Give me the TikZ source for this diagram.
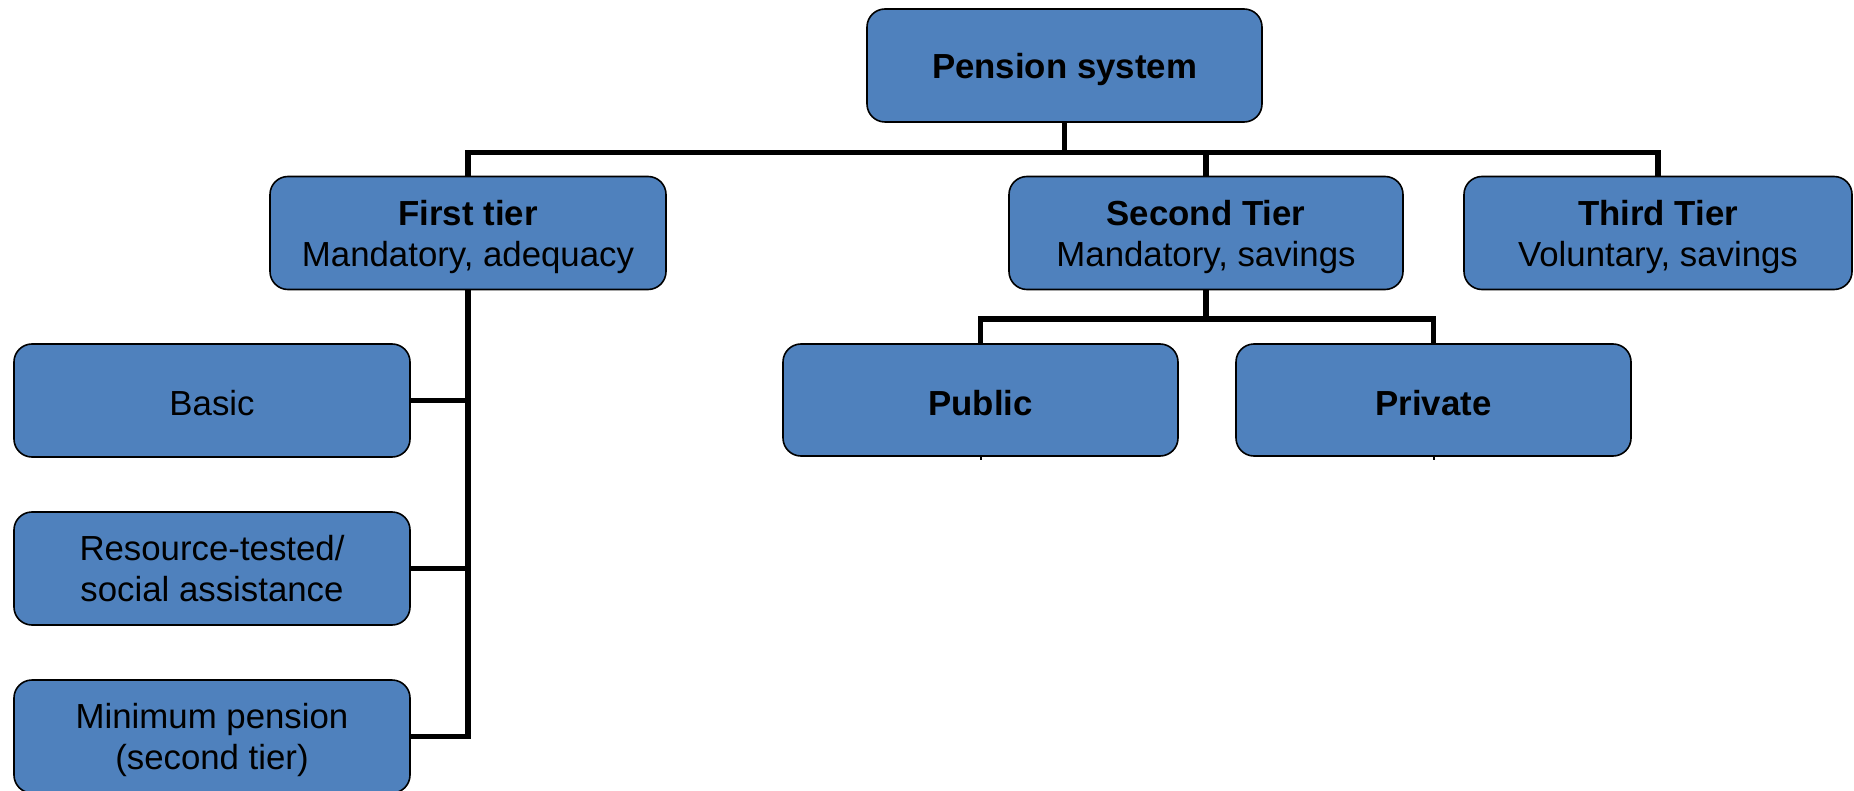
\documentclass[tikz,border=0pt]{standalone}
\usepackage{fontspec}
\setmainfont{Liberation Sans}
\definecolor{boxblue}{RGB}{79,129,189}
\begin{document}
\begin{tikzpicture}[x=1pt,y=-1pt,
  tbox/.style={draw=black, line width=1.6pt, fill=boxblue, rounded corners=18pt,
    minimum width=396pt, minimum height=113pt, inner sep=0pt, align=center,
    text depth=0pt, font=\fontsize{34.8}{41}\selectfont},
  lowtext/.style={text height=30pt},
  bus/.style={draw=black, line width=5.5pt},
  stub/.style={draw=black, line width=2pt}]
\useasboundingbox (0,0) rectangle (1854,791);
\begin{scope}
\clip (0,0) rectangle (1854,791);
\node[tbox, minimum width=395pt] (top) at (1064.5,65.5) {\textbf{Pension system}};
\node[tbox] (first) at (468,233) {\textbf{First tier}\\Mandatory, adequacy};
\node[tbox, minimum width=394pt] (second) at (1206,233) {\textbf{Second Tier}\\Mandatory, savings};
\node[tbox, minimum width=388pt] (third) at (1658,233) {\textbf{Third Tier}\\Voluntary, savings};
\node[tbox, lowtext] (basic) at (212,400.5) {Basic};
\node[tbox] (resource) at (212,568.5) {Resource-tested/\\social assistance};
\node[tbox] (minimum) at (212,736.5) {Minimum pension\\(second tier)};
\node[tbox, lowtext, minimum width=395pt, minimum height=112pt] (public) at (980.5,400) {\textbf{Public}};
\node[tbox, lowtext, minimum width=395pt, minimum height=112pt] (private) at (1433.5,400) {\textbf{Private}};
\end{scope}
\coordinate (b1) at (1064.5,152.5);
\coordinate (b2) at (1206,319);
\coordinate (pubstub) at (980.5,460);
\coordinate (pristub) at (1433.5,460);
\draw[bus] (top.south) -- (b1);
\draw[bus] (first.north) |- (b1) -| (third.north);
\draw[bus] (second.north) -- (second.north |- b1);
\draw[bus] (first.south) -- (first.south |- minimum.east) -- (minimum.east);
\draw[bus] (basic.east) -- (basic.east -| first.south);
\draw[bus] (resource.east) -- (resource.east -| first.south);
\draw[bus] (second.south) -- (b2);
\draw[bus] (public.north) |- (b2) -| (private.north);
\draw[stub] (public.south) -- (pubstub);
\draw[stub] (private.south) -- (pristub);
\end{tikzpicture}
\end{document}
